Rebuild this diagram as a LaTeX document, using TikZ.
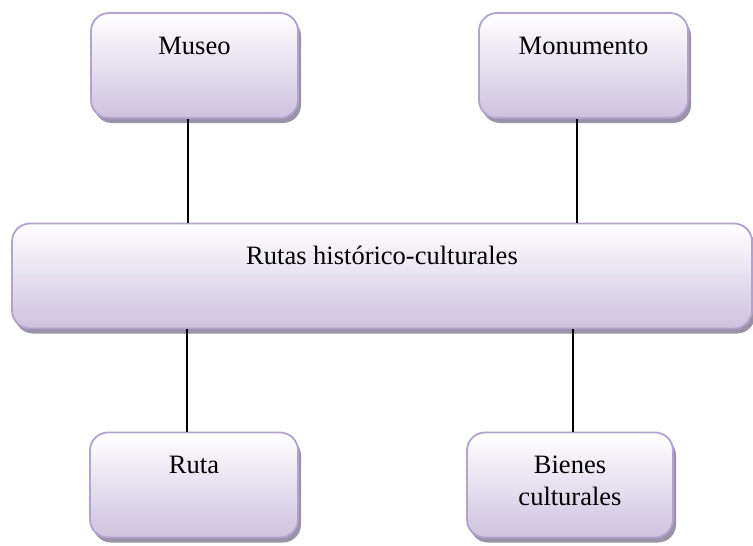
\documentclass[tikz,border=0pt]{standalone}
\usepackage{fontspec}
\setmainfont{Liberation Serif}
\usetikzlibrary{shadows}
\definecolor{boxline}{HTML}{B3A2CE}
\definecolor{boxbottom}{HTML}{CDC2DE}
\definecolor{boxshadow}{HTML}{9A92A5}
\begin{document}
\begin{tikzpicture}[x=1pt,y=-1pt]
	\tikzstyle{box}  = [rectangle, rounded corners=18pt, draw=boxline, line width=1.8pt, top color=white, bottom color=boxbottom, drop shadow={shadow xshift=3pt, shadow yshift=-5pt, fill=boxshadow, opacity=1}, inner sep=0pt, font=\fontsize{26.5}{32}\selectfont, text height=41pt, text depth=64pt, align=center]
	\useasboundingbox (0,0) rectangle (753,546);

	\node[box, minimum width=740pt] (rutas) at (382,276) {Rutas histórico-culturales};

	\foreach \name/\x/\y/\w/\th/\label in {museo/194.5/65.5/207/41/Museo, monumento/583.5/65.5/209/41/Monumento, ruta/194/485/208/41/Ruta, bienes/570/485/206/73/{Bienes\\culturales}}
		\node[box, minimum width=\w pt, text height=\th pt, text depth=105pt-\th pt] (\name) at (\x, \y) {\label};

	\foreach \from/\dx in {museo/-6.5, monumento/-6.5}
		\draw[line width=1.3pt] ([xshift=\dx pt]\from.south) -- ([xshift=\dx pt]\from.south |- rutas.north);

	\foreach \to/\dx in {ruta/-7, bienes/3}
		\draw[line width=1.3pt] ([xshift=\dx pt]\to.north |- rutas.south) -- ([xshift=\dx pt]\to.north);
\end{tikzpicture}
\end{document}
